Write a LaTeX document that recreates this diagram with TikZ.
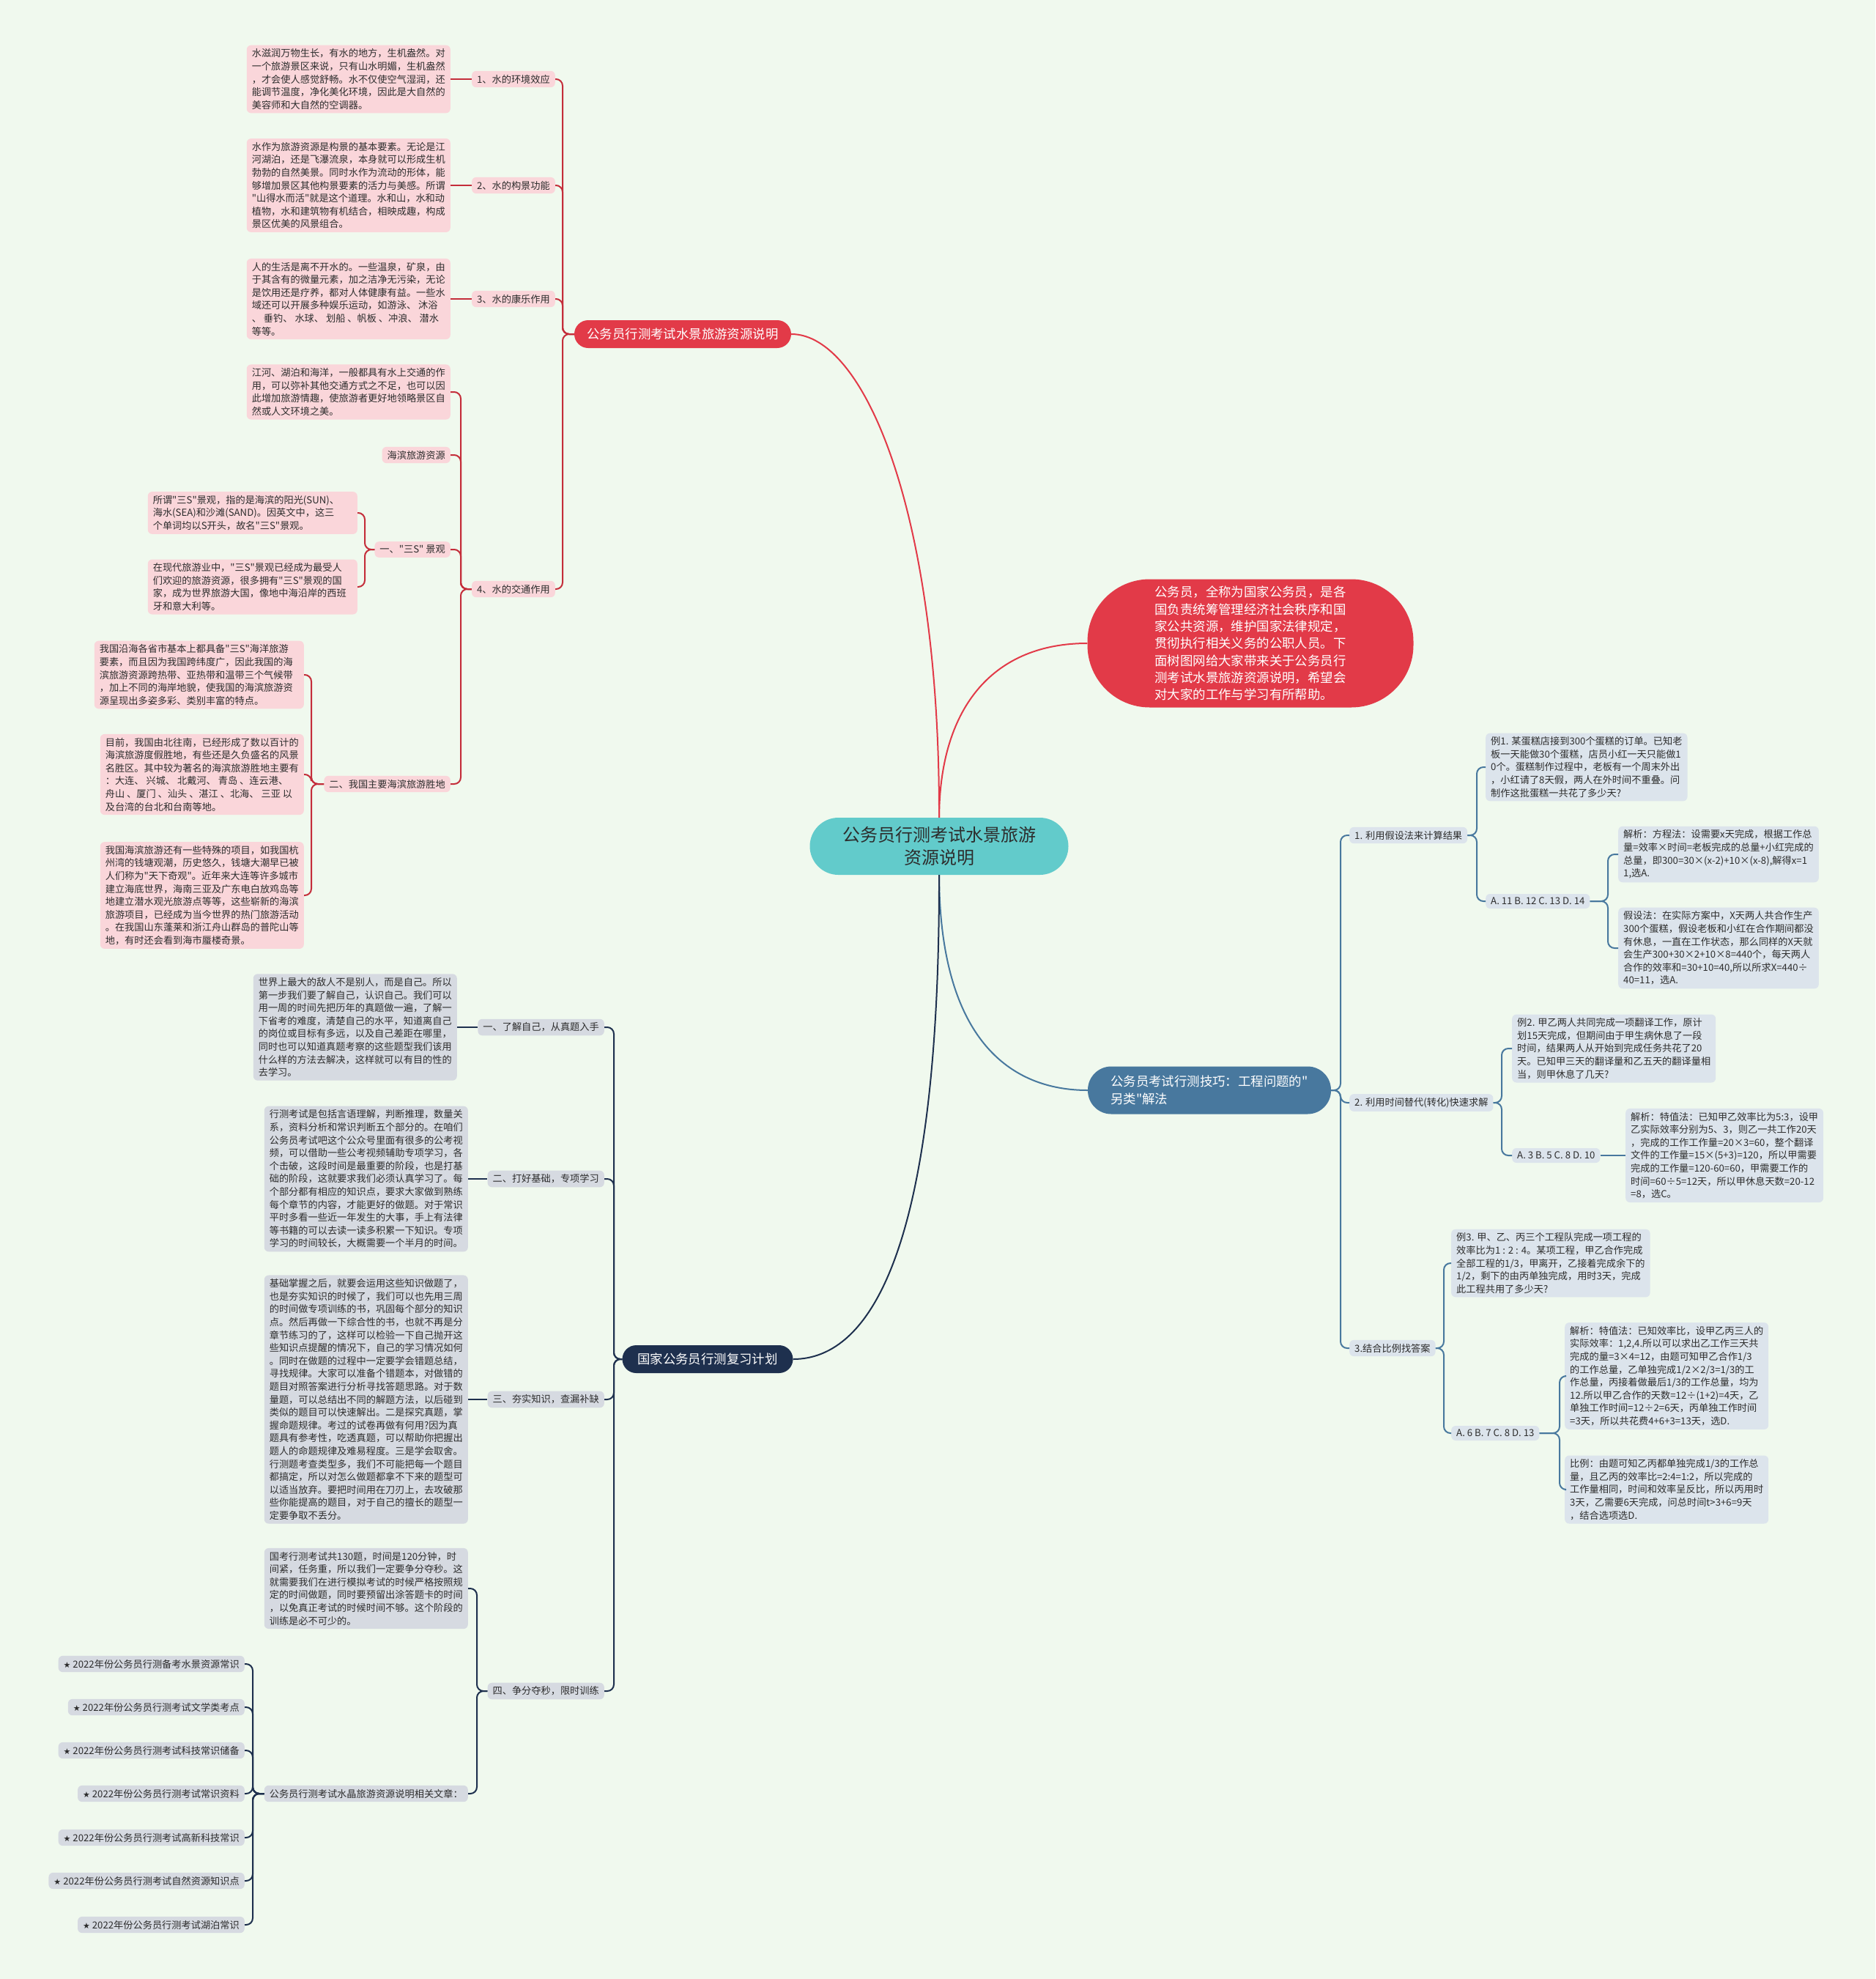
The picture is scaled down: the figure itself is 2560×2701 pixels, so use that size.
\documentclass[tikz,border=0pt]{standalone}
\usepackage{fontspec}
\setmainfont{Noto Sans CJK SC}[Ligatures=TeXOff]
\newfontfamily\djv{DejaVu Sans}
\definecolor{bg}{RGB}{240,249,238}
\definecolor{redm}{RGB}{226,58,72}
\definecolor{redl}{RGB}{196,45,58}
\definecolor{pinkf}{RGB}{250,214,218}
\definecolor{tealf}{RGB}{98,203,203}
\definecolor{bluem}{RGB}{72,120,158}
\definecolor{bluef}{RGB}{220,228,236}
\definecolor{navym}{RGB}{30,48,78}
\definecolor{greyf}{RGB}{214,218,225}
\definecolor{txt}{RGB}{45,45,45}
\newcommand\smallfs{\fontsize{13.2pt}{17.6pt}\selectfont}
\newcommand\bigfs{\fontsize{17.4pt}{23.3pt}\selectfont}
\newcommand\ctrfs{\fontsize{24pt}{31pt}\selectfont}
\newcommand\stt{{\djv\fontsize{11pt}{13pt}\selectfont ★}~}
\begin{document}
\begin{tikzpicture}[x=1pt,y=-1pt,
 box/.style={rounded corners=6pt, align=left, text=txt, inner xsep=7pt, inner ysep=5pt, font=\smallfs},
 rbox/.style={box, fill=pinkf},
 bbox/.style={box, fill=bluef},
 nbox/.style={box, fill=greyf},
 rl/.style={draw=redl, line width=2pt, rounded corners=9pt},
 bl/.style={draw=bluem, line width=2pt, rounded corners=9pt},
 nl/.style={draw=navym, line width=2pt, rounded corners=9pt},
 main/.style={line width=2pt},
]
\useasboundingbox (0,0) rectangle (2560,2701);
\fill[bg] (0,0) rectangle (2560,2701);

% ---------- centre and main branches ----------
\node[fill=tealf, text=txt, rounded corners=39pt, minimum width=353pt, minimum height=78pt, align=center, font=\ctrfs] (C) at (1282,1155) {公务员行测考试水景旅游\\资源说明};
\node[fill=redm, text=white, rounded corners=85pt, minimum width=445pt, minimum height=175pt, align=left, font=\bigfs] (I) at (1707,878) {公务员，全称为国家公务员，是各\\国负责统筹管理经济社会秩序和国\\家公共资源，维护国家法律规定，\\贯彻执行相关义务的公职人员。下\\面树图网给大家带来关于公务员行\\测考试水景旅游资源说明，希望会\\对大家的工作与学习有所帮助。};
\node[fill=redm, text=white, rounded corners=19pt, minimum width=296pt, minimum height=38pt, font=\bigfs] (R) at (932,456) {公务员行测考试水景旅游资源说明};
\node[fill=bluem, text=white, rounded corners=32pt, minimum width=332pt, minimum height=65pt, align=left, font=\bigfs] (B) at (1651,1488) {公务员考试行测技巧：工程问题的"\\另类"解法};
\node[fill=navym, text=white, rounded corners=19pt, minimum width=233pt, minimum height=38pt, font=\bigfs] (N) at (966,1855) {国家公务员行测复习计划};

\draw[main, redm] (C.north) .. controls (1283,700) and (1180,456) .. (R.east);
\draw[main, redm] (C.north) .. controls (1283,960) and (1360,878) .. (I.west);
\draw[main, bluem] (C.south) .. controls (1283,1420) and (1380,1488) .. (B.west);
\draw[main, navym] (C.south) .. controls (1283,1700) and (1190,1855) .. (N.east);

% ---------- red branch ----------
\node[rbox, anchor=east] (r1) at (758,108) {1、水的环境效应};
\node[rbox, anchor=east] (r2) at (758,253) {2、水的构景功能};
\node[rbox, anchor=east] (r3) at (758,408) {3、水的康乐作用};
\node[rbox, anchor=east] (r4) at (758,804) {4、水的交通作用};

\node[rbox, anchor=east] (l1) at (615,108) {水滋润万物生长，有水的地方，生机盎然。对\\一个旅游景区来说，只有山水明媚，生机盎然\\，才会使人感觉舒畅。水不仅使空气湿润，还\\能调节温度，净化美化环境，因此是大自然的\\美容师和大自然的空调器。};
\node[rbox, anchor=east] (l2) at (615,253) {水作为旅游资源是构景的基本要素。无论是江\\河湖泊，还是飞瀑流泉，本身就可以形成生机\\勃勃的自然美景。同时水作为流动的形体，能\\够增加景区其他构景要素的活力与美感。所谓\\"山得水而活"就是这个道理。水和山，水和动\\植物，水和建筑物有机结合，相映成趣，构成\\景区优美的风景组合。};
\node[rbox, anchor=east] (l3) at (615,408) {人的生活是离不开水的。一些温泉，矿泉，由\\于其含有的微量元素，加之洁净无污染，无论\\是饮用还是疗养，都对人体健康有益。一些水\\域还可以开展多种娱乐运动，如游泳、 沐浴\\、 垂钓、 水球、 划船 、帆板 、冲浪、 潜水\\等等。};

\node[rbox, anchor=east] (l4a) at (615,535) {江河、湖泊和海洋，一般都具有水上交通的作\\用，可以弥补其他交通方式之不足，也可以因\\此增加旅游情趣，使旅游者更好地领略景区自\\然或人文环境之美。};
\node[rbox, anchor=east] (hb) at (615,621) {海滨旅游资源};
\node[rbox, anchor=east] (s3) at (615,750) {一、"三S" 景观};
\node[rbox, anchor=east] (sh) at (615,1070) {二、我国主要海滨旅游胜地};

\node[rbox, anchor=east, text width=272pt] (s3a) at (488,700) {所谓"三S"景观，指的是海滨的阳光(SUN)、\\海水(SEA)和沙滩(SAND)。因英文中，这三\\个单词均以S开头，故名"三S"景观。};
\node[rbox, anchor=east, text width=272pt] (s3c) at (488,801) {在现代旅游业中，"三S"景观已经成为最受人\\们欢迎的旅游资源，很多拥有"三S"景观的国\\家，成为世界旅游大国，像地中海沿岸的西班\\牙和意大利等。};

\node[rbox, anchor=east, text width=272pt] (sh1) at (415,921) {我国沿海各省市基本上都具备"三S"海洋旅游\\要素，而且因为我国跨纬度广，因此我国的海\\滨旅游资源跨热带、亚热带和温带三个气候带\\，加上不同的海岸地貌，使我国的海滨旅游资\\源呈现出多姿多彩、类别丰富的特点。};
\node[rbox, anchor=east] (sh2) at (415,1057) {目前，我国由北往南，已经形成了数以百计的\\海滨旅游度假胜地，有些还是久负盛名的风景\\名胜区。其中较为著名的海滨旅游胜地主要有\\：大连、 兴城、 北戴河、 青岛 、连云港、\\舟山 、厦门 、汕头 、湛江 、北海、 三亚 以\\及台湾的台北和台南等地。};
\node[rbox, anchor=east] (sh3) at (415,1222) {我国海滨旅游还有一些特殊的项目，如我国杭\\州湾的钱塘观潮，历史悠久，钱塘大潮早已被\\人们称为"天下奇观"。近年来大连等许多城市\\建立海底世界，海南三亚及广东电白放鸡岛等\\地建立潜水观光旅游点等等，这些崭新的海滨\\旅游项目，已经成为当今世界的热门旅游活动\\。在我国山东蓬莱和浙江舟山群岛的普陀山等\\地，有时还会看到海市蜃楼奇景。};

\coordinate (rb) at (768,0);
\foreach \c in {r1,r2,r3,r4}
  \draw[rl] (R.west) -- (R.west -| rb) -- (\c.east -| rb) -- (\c.east);
\draw[rl] (l1.east) -- (r1.west);
\draw[rl] (l2.east) -- (r2.west);
\draw[rl] (l3.east) -- (r3.west);
\coordinate (r4b) at (629,0);
\foreach \c in {l4a,hb,s3,sh}
  \draw[rl] (r4.west) -- (r4.west -| r4b) -- (\c.east -| r4b) -- (\c.east);
\coordinate (s3bar) at (498,0);
\foreach \c in {s3a,s3c}
  \draw[rl] (s3.west) -- (s3.west -| s3bar) -- (\c.east -| s3bar) -- (\c.east);
\coordinate (shbar) at (425,0);
\foreach \c in {sh1,sh2,sh3}
  \draw[rl] (sh.west) -- (sh.west -| shbar) -- (\c.east -| shbar) -- (\c.east);

% ---------- blue branch ----------
\node[bbox, anchor=west] (b1) at (1842,1140) {1. 利用假设法来计算结果};
\node[bbox, anchor=west] (b2) at (1842,1505) {2. 利用时间替代(转化)快速求解};
\node[bbox, anchor=west] (b3) at (1842,1840) {3.结合比例找答案};

\node[bbox, anchor=west] (b1q) at (2028,1047) {例1. 某蛋糕店接到300个蛋糕的订单。已知老\\板一天能做30个蛋糕，店员小红一天只能做1\\0个。蛋糕制作过程中，老板有一个周末外出\\，小红请了8天假，两人在外时间不重叠。问\\制作这批蛋糕一共花了多少天?};
\node[bbox, anchor=west] (b1a) at (2028,1230) {A. 11 B. 12 C. 13 D. 14};
\node[bbox, anchor=west] (b1x) at (2209,1166) {解析：方程法：设需要x天完成，根据工作总\\量=效率×时间=老板完成的总量+小红完成的\\总量，即300=30×(x-2)+10×(x-8),解得x=1\\1,选A.};
\node[bbox, anchor=west] (b1y) at (2209,1294) {假设法：在实际方案中，X天两人共合作生产\\300个蛋糕，假设老板和小红在合作期间都没\\有休息，一直在工作状态，那么同样的X天就\\会生产300+30×2+10×8=440个，每天两人\\合作的效率和=30+10=40,所以所求X=440÷\\40=11，选A.};

\node[bbox, anchor=west] (b2q) at (2064,1431) {例2. 甲乙两人共同完成一项翻译工作，原计\\划15天完成，但期间由于甲生病休息了一段\\时间，结果两人从开始到完成任务共花了20\\天。已知甲三天的翻译量和乙五天的翻译量相\\当，则甲休息了几天?};
\node[bbox, anchor=west] (b2a) at (2064,1577) {A. 3 B. 5 C. 8 D. 10};
\node[bbox, anchor=west] (b2x) at (2219,1577) {解析：特值法：已知甲乙效率比为5:3，设甲\\乙实际效率分别为5、3，则乙一共工作20天\\，完成的工作工作量=20×3=60，整个翻译\\文件的工作量=15×(5+3)=120，所以甲需要\\完成的工作量=120-60=60，甲需要工作的\\时间=60÷5=12天，所以甲休息天数=20-12\\=8，选C。};

\node[bbox, anchor=west] (b3q) at (1981,1724) {例3. 甲、乙、丙三个工程队完成一项工程的\\效率比为1 : 2 : 4。某项工程，甲乙合作完成\\全部工程的1/3，甲离开，乙接着完成余下的\\1/2，剩下的由丙单独完成，用时3天，完成\\此工程共用了多少天?};
\node[bbox, anchor=west] (b3a) at (1981,1956) {A. 6 B. 7 C. 8 D. 13};
\node[bbox, anchor=west] (b3x) at (2136,1878) {解析：特值法：已知效率比，设甲乙丙三人的\\实际效率：1,2,4.所以可以求出乙工作三天共\\完成的量=3×4=12，由题可知甲乙合作1/3\\的工作总量，乙单独完成1/2×2/3=1/3的工\\作总量，丙接着做最后1/3的工作总量，均为\\12.所以甲乙合作的天数=12÷(1+2)=4天，乙\\单独工作时间=12÷2=6天，丙单独工作时间\\=3天，所以共花费4+6+3=13天，选D.};
\node[bbox, anchor=west] (b3y) at (2136,2033) {比例：由题可知乙丙都单独完成1/3的工作总\\量，且乙丙的效率比=2:4=1:2，所以完成的\\工作量相同，时间和效率呈反比，所以丙用时\\3天，乙需要6天完成，问总时间t>3+6=9天\\，结合选项选D.};

\coordinate (bb) at (1830,0);
\foreach \c in {b1,b2,b3}
  \draw[bl] (B.east) -- (B.east -| bb) -- (\c.west -| bb) -- (\c.west);
\coordinate (b1bar) at (2016,0);
\foreach \c in {b1q,b1a}
  \draw[bl] (b1.east) -- (b1.east -| b1bar) -- (\c.west -| b1bar) -- (\c.west);
\coordinate (b1abar) at (2195,0);
\foreach \c in {b1x,b1y}
  \draw[bl] (b1a.east) -- (b1a.east -| b1abar) -- (\c.west -| b1abar) -- (\c.west);
\coordinate (b2bar) at (2050,0);
\foreach \c in {b2q,b2a}
  \draw[bl] (b2.east) -- (b2.east -| b2bar) -- (\c.west -| b2bar) -- (\c.west);
\draw[bl] (b2a.east) -- (b2x.west);
\coordinate (b3bar) at (1971,0);
\foreach \c in {b3q,b3a}
  \draw[bl] (b3.east) -- (b3.east -| b3bar) -- (\c.west -| b3bar) -- (\c.west);
\coordinate (b3abar) at (2129,0);
\foreach \c in {b3x,b3y}
  \draw[bl] (b3a.east) -- (b3a.east -| b3abar) -- (\c.west -| b3abar) -- (\c.west);

% ---------- navy branch ----------
\node[nbox, anchor=east] (n1) at (825,1402) {一、了解自己，从真题入手};
\node[nbox, anchor=east] (n2) at (825,1609) {二、打好基础，专项学习};
\node[nbox, anchor=east] (n3) at (825,1910) {三、夯实知识，查漏补缺};
\node[nbox, anchor=east] (n4) at (825,2308) {四、争分夺秒，限时训练};

\node[nbox, anchor=east] (n1t) at (624,1402) {世界上最大的敌人不是别人，而是自己。所以\\第一步我们要了解自己，认识自己。我们可以\\用一周的时间先把历年的真题做一遍，了解一\\下省考的难度，清楚自己的水平，知道离自己\\的岗位或目标有多远，以及自己差距在哪里，\\同时也可以知道真题考察的这些题型我们该用\\什么样的方法去解决，这样就可以有目的性的\\去学习。};
\node[nbox, anchor=east] (n2t) at (639,1609) {行测考试是包括言语理解，判断推理，数量关\\系，资料分析和常识判断五个部分的。在咱们\\公务员考试吧这个公众号里面有很多的公考视\\频，可以借助一些公考视频辅助专项学习，各\\个击破，这段时间是最重要的阶段，也是打基\\础的阶段，这就要求我们必须认真学习了。每\\个部分都有相应的知识点，要求大家做到熟练\\每个章节的内容，才能更好的做题。对于常识\\平时多看一些近一年发生的大事，手上有法律\\等书籍的可以去读一读多积累一下知识。专项\\学习的时间较长，大概需要一个半月的时间。};
\node[nbox, anchor=east] (n3t) at (639,1910) {基础掌握之后，就要会运用这些知识做题了，\\也是夯实知识的时候了，我们可以也先用三周\\的时间做专项训练的书，巩固每个部分的知识\\点。然后再做一下综合性的书，也就不再是分\\章节练习的了，这样可以检验一下自己抛开这\\些知识点提醒的情况下，自己的学习情况如何\\。同时在做题的过程中一定要学会错题总结，\\寻找规律。大家可以准备个错题本，对做错的\\题目对照答案进行分析寻找答题思路。对于数\\量题，可以总结出不同的解题方法，以后碰到\\类似的题目可以快速解出。二是探究真题，掌\\握命题规律。考过的试卷再做有何用?因为真\\题具有参考性，吃透真题，可以帮助你把握出\\题人的命题规律及难易程度。三是学会取舍。\\行测题考查类型多，我们不可能把每一个题目\\都搞定，所以对怎么做题都拿不下来的题型可\\以适当放弃。要把时间用在刀刃上，去攻破那\\些你能提高的题目，对于自己的擅长的题型一\\定要争取不丢分。};
\node[nbox, anchor=east] (n4t) at (639,2168) {国考行测考试共130题，时间是120分钟，时\\间紧，任务重，所以我们一定要争分夺秒。这\\就需要我们在进行模拟考试的时候严格按照规\\定的时间做题，同时要预留出涂答题卡的时间\\，以免真正考试的时候时间不够。这个阶段的\\训练是必不可少的。};
\node[nbox, anchor=east] (rel) at (639,2448) {公务员行测考试水晶旅游资源说明相关文章：};

\node[nbox, anchor=east] (a1) at (334,2271) {\stt 2022年份公务员行测备考水景资源常识};
\node[nbox, anchor=east] (a2) at (334,2330) {\stt 2022年份公务员行测考试文学类考点};
\node[nbox, anchor=east] (a3) at (334,2389) {\stt 2022年份公务员行测考试科技常识储备};
\node[nbox, anchor=east] (a4) at (334,2448) {\stt 2022年份公务员行测考试常识资料};
\node[nbox, anchor=east] (a5) at (334,2508) {\stt 2022年份公务员行测考试高新科技常识};
\node[nbox, anchor=east] (a6) at (334,2567) {\stt 2022年份公务员行测考试自然资源知识点};
\node[nbox, anchor=east] (a7) at (334,2627) {\stt 2022年份公务员行测考试湖泊常识};

\coordinate (nb) at (838,0);
\foreach \c in {n1,n2,n3,n4}
  \draw[nl] (N.west) -- (N.west -| nb) -- (\c.east -| nb) -- (\c.east);
\draw[nl] (n1t.east) -- (n1.west);
\draw[nl] (n2t.east) -- (n2.west);
\draw[nl] (n3t.east) -- (n3.west);
\coordinate (n4bar) at (651,0);
\foreach \c in {n4t,rel}
  \draw[nl] (n4.west) -- (n4.west -| n4bar) -- (\c.east -| n4bar) -- (\c.east);
\coordinate (relbar) at (345,0);
\foreach \c in {a1,a2,a3,a4,a5,a6,a7}
  \draw[nl] (rel.west) -- (rel.west -| relbar) -- (\c.east -| relbar) -- (\c.east);
\end{tikzpicture}
\end{document}
